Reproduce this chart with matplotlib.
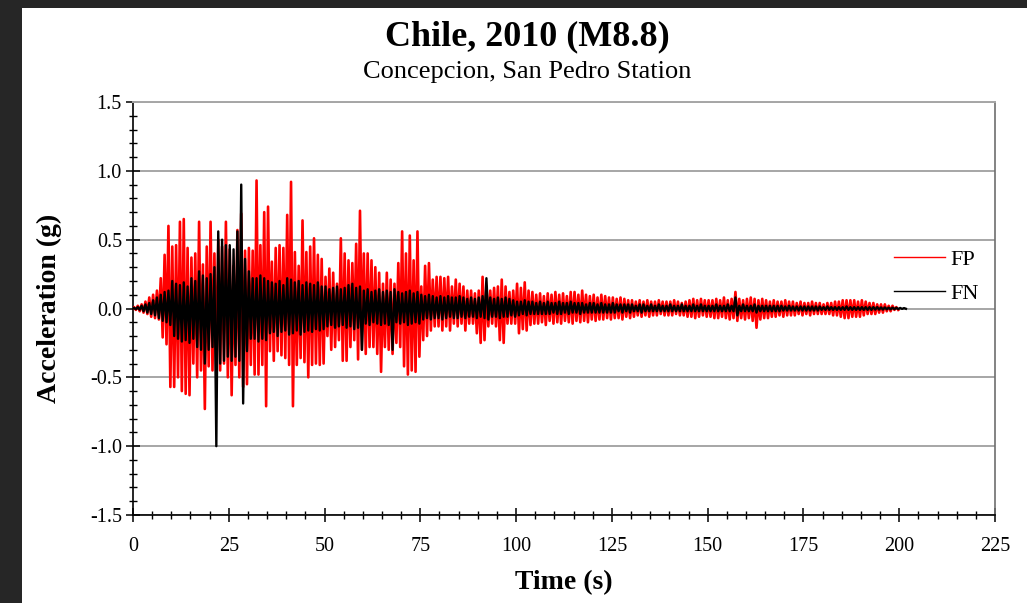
import numpy as np
import matplotlib
matplotlib.use('Agg')
import matplotlib.pyplot as plt
from matplotlib.patches import Rectangle
from matplotlib.ticker import MultipleLocator, FuncFormatter

plt.rcParams['font.family'] = ['Liberation Serif', 'DejaVu Serif']
plt.rcParams['axes.unicode_minus'] = False

TITLE = "Chile, 2010 (M8.8)"
SUBTITLE = "Concepcion, San Pedro Station"
X_LABEL = "Time (s)"
Y_LABEL = "Acceleration (g)"
SERIES = ["FP", "FN"]

# Per-second positive / negative peak accelerations (g)
FP_POS = [0.01, 0.02, 0.03, 0.05, 0.08, 0.10, 0.13, 0.22, 0.39, 0.60, 0.45, 0.46, 0.63, 0.65, 0.44, 0.37, 0.40, 0.63, 0.32, 0.45, 0.63, 0.40, 0.50, 0.45, 0.63,
          0.43, 0.31, 0.57, 0.69, 0.42, 0.44, 0.42, 0.93, 0.46, 0.70, 0.74, 0.34, 0.44, 0.46, 0.44, 0.68, 0.92, 0.41, 0.31, 0.64, 0.41, 0.45, 0.51, 0.39, 0.36,
          0.23, 0.29, 0.26, 0.18, 0.51, 0.40, 0.35, 0.33, 0.47, 0.71, 0.40, 0.40, 0.35, 0.30, 0.26, 0.18, 0.26, 0.21, 0.18, 0.33, 0.56, 0.40, 0.53, 0.35, 0.56,
          0.16, 0.31, 0.33, 0.21, 0.23, 0.23, 0.22, 0.23, 0.16, 0.21, 0.18, 0.16, 0.13, 0.13, 0.11, 0.13, 0.23, 0.16, 0.13, 0.15, 0.16, 0.21, 0.16, 0.12, 0.13,
          0.18, 0.15, 0.19, 0.13, 0.12, 0.10, 0.11, 0.09, 0.11, 0.10, 0.12, 0.10, 0.11, 0.09, 0.12, 0.12, 0.10, 0.13, 0.10, 0.09, 0.10, 0.08, 0.10, 0.09, 0.08,
          0.08, 0.07, 0.08, 0.07, 0.06, 0.06, 0.05, 0.06, 0.05, 0.06, 0.05, 0.05, 0.06, 0.05, 0.05, 0.05, 0.06, 0.05, 0.04, 0.05, 0.06, 0.07, 0.06, 0.07, 0.06,
          0.06, 0.06, 0.07, 0.06, 0.08, 0.06, 0.07, 0.12, 0.07, 0.06, 0.07, 0.08, 0.07, 0.06, 0.07, 0.06, 0.05, 0.06, 0.05, 0.05, 0.06, 0.05, 0.05, 0.04, 0.05,
          0.04, 0.04, 0.05, 0.04, 0.04, 0.03, 0.04, 0.04, 0.05, 0.05, 0.06, 0.06, 0.06, 0.06, 0.05, 0.06, 0.05, 0.04, 0.04, 0.03, 0.03, 0.03, 0.02, 0.02, 0.01]
FP_NEG = [-0.01, -0.02, -0.03, -0.04, -0.06, -0.07, -0.08, -0.21, -0.26, -0.57, -0.57, -0.50, -0.60, -0.62, -0.63, -0.40, -0.50, -0.45, -0.73, -0.42, -0.45, -0.50, -0.45, -0.40, -0.50,
          -0.63, -0.41, -0.50, -0.57, -0.55, -0.41, -0.48, -0.48, -0.41, -0.71, -0.31, -0.38, -0.31, -0.34, -0.36, -0.41, -0.71, -0.41, -0.36, -0.39, -0.50, -0.41, -0.40, -0.41, -0.40,
          -0.20, -0.30, -0.28, -0.23, -0.38, -0.38, -0.28, -0.23, -0.37, -0.30, -0.33, -0.28, -0.28, -0.33, -0.46, -0.28, -0.30, -0.33, -0.25, -0.28, -0.42, -0.48, -0.45, -0.46, -0.35,
          -0.23, -0.20, -0.16, -0.13, -0.13, -0.16, -0.13, -0.16, -0.11, -0.13, -0.11, -0.16, -0.11, -0.11, -0.18, -0.25, -0.23, -0.13, -0.11, -0.13, -0.23, -0.25, -0.11, -0.11, -0.11,
          -0.18, -0.15, -0.16, -0.12, -0.11, -0.11, -0.10, -0.12, -0.09, -0.11, -0.10, -0.11, -0.09, -0.10, -0.11, -0.09, -0.10, -0.09, -0.10, -0.08, -0.09, -0.08, -0.08, -0.07, -0.08,
          -0.07, -0.07, -0.08, -0.06, -0.07, -0.06, -0.05, -0.06, -0.05, -0.06, -0.05, -0.05, -0.04, -0.05, -0.05, -0.05, -0.04, -0.05, -0.05, -0.06, -0.06, -0.07, -0.06, -0.05, -0.06,
          -0.06, -0.07, -0.07, -0.06, -0.07, -0.08, -0.07, -0.09, -0.07, -0.08, -0.07, -0.09, -0.14, -0.08, -0.07, -0.07, -0.06, -0.06, -0.05, -0.06, -0.05, -0.05, -0.05, -0.04, -0.05,
          -0.04, -0.05, -0.04, -0.04, -0.04, -0.04, -0.04, -0.05, -0.05, -0.06, -0.07, -0.07, -0.06, -0.06, -0.06, -0.05, -0.04, -0.04, -0.04, -0.03, -0.03, -0.02, -0.02, -0.01, -0.01]
FN_POS = [0.005, 0.01, 0.02, 0.03, 0.04, 0.06, 0.08, 0.10, 0.12, 0.13, 0.20, 0.18, 0.17, 0.19, 0.16, 0.22, 0.20, 0.27, 0.24, 0.22, 0.25, 0.30, 0.56, 0.50, 0.46,
          0.46, 0.43, 0.56, 0.90, 0.36, 0.27, 0.22, 0.22, 0.24, 0.22, 0.20, 0.19, 0.18, 0.20, 0.17, 0.22, 0.21, 0.19, 0.20, 0.17, 0.19, 0.18, 0.17, 0.19, 0.16,
          0.16, 0.14, 0.15, 0.16, 0.14, 0.15, 0.17, 0.18, 0.15, 0.16, 0.13, 0.14, 0.12, 0.13, 0.14, 0.12, 0.13, 0.12, 0.14, 0.12, 0.11, 0.12, 0.13, 0.11, 0.12,
          0.10, 0.09, 0.10, 0.09, 0.08, 0.09, 0.08, 0.09, 0.08, 0.08, 0.09, 0.08, 0.07, 0.08, 0.07, 0.08, 0.09, 0.22, 0.08, 0.07, 0.08, 0.07, 0.08, 0.07, 0.06,
          0.05, 0.05, 0.06, 0.05, 0.05, 0.04, 0.05, 0.04, 0.05, 0.04, 0.04, 0.05, 0.04, 0.04, 0.05, 0.04, 0.04, 0.04, 0.03, 0.04, 0.04, 0.03, 0.04, 0.03, 0.03,
          0.04, 0.03, 0.03, 0.03, 0.03, 0.03, 0.02, 0.03, 0.03, 0.02, 0.03, 0.02, 0.03, 0.02, 0.02, 0.03, 0.02, 0.02, 0.03, 0.02, 0.02, 0.03, 0.02, 0.03, 0.02,
          0.02, 0.02, 0.03, 0.02, 0.02, 0.03, 0.02, 0.08, 0.02, 0.03, 0.02, 0.02, 0.03, 0.02, 0.02, 0.02, 0.02, 0.02, 0.02, 0.02, 0.015, 0.02, 0.015, 0.015, 0.015,
          0.015, 0.015, 0.015, 0.015, 0.015, 0.01, 0.015, 0.01, 0.01, 0.01, 0.01, 0.015, 0.01, 0.01, 0.01, 0.01, 0.01, 0.01, 0.01, 0.01, 0.008, 0.008, 0.006, 0.006, 0.005,
          0.004, 0.003]
FN_NEG = [-0.005, -0.01, -0.02, -0.03, -0.04, -0.05, -0.07, -0.09, -0.10, -0.12, -0.20, -0.22, -0.24, -0.23, -0.25, -0.22, -0.28, -0.30, -0.40, -0.30, -0.28, -1.00, -0.40, -0.38, -0.35,
          -0.38, -0.35, -0.38, -0.69, -0.31, -0.22, -0.22, -0.24, -0.22, -0.23, -0.18, -0.17, -0.20, -0.17, -0.16, -0.19, -0.18, -0.16, -0.19, -0.17, -0.16, -0.17, -0.15, -0.16, -0.15,
          -0.13, -0.12, -0.14, -0.13, -0.12, -0.14, -0.13, -0.15, -0.14, -0.30, -0.11, -0.12, -0.10, -0.11, -0.12, -0.11, -0.12, -0.30, -0.10, -0.11, -0.10, -0.12, -0.11, -0.10, -0.11,
          -0.08, -0.07, -0.08, -0.07, -0.07, -0.08, -0.07, -0.06, -0.07, -0.07, -0.06, -0.07, -0.06, -0.06, -0.07, -0.06, -0.07, -0.08, -0.06, -0.06, -0.07, -0.06, -0.06, -0.05, -0.06,
          -0.05, -0.04, -0.05, -0.04, -0.04, -0.04, -0.04, -0.04, -0.04, -0.03, -0.04, -0.04, -0.03, -0.04, -0.03, -0.03, -0.04, -0.03, -0.03, -0.03, -0.03, -0.03, -0.03, -0.03, -0.03,
          -0.03, -0.02, -0.03, -0.02, -0.03, -0.02, -0.02, -0.03, -0.02, -0.02, -0.02, -0.02, -0.02, -0.02, -0.02, -0.02, -0.02, -0.02, -0.02, -0.02, -0.02, -0.02, -0.02, -0.02, -0.02,
          -0.02, -0.02, -0.02, -0.02, -0.02, -0.02, -0.02, -0.05, -0.02, -0.02, -0.02, -0.02, -0.03, -0.02, -0.02, -0.02, -0.02, -0.02, -0.02, -0.015, -0.015, -0.015, -0.015, -0.015, -0.015,
          -0.015, -0.015, -0.015, -0.015, -0.01, -0.01, -0.01, -0.01, -0.01, -0.01, -0.01, -0.01, -0.01, -0.01, -0.01, -0.01, -0.01, -0.01, -0.008, -0.008, -0.008, -0.006, -0.006, -0.005,
          -0.004, -0.003, -0.002]

X_TICKS = [0, 25, 50, 75, 100, 125, 150, 175, 200, 225]
Y_TICKS = [-1.5, -1.0, -0.5, 0.0, 0.5, 1.0, 1.5]


def trace(pos, neg):
    tp = np.arange(len(pos)) + 0.25
    tn = np.arange(len(neg)) + 0.75
    t = np.concatenate([[0.0], tp, tn])
    v = np.concatenate([[0.0], pos, neg])
    order = np.argsort(t, kind='stable')
    return t[order], v[order]


W, H = 1027, 603
fig = plt.figure(figsize=(W / 100, H / 100), dpi=100)
fig.patch.set_facecolor('#262626')
fig.add_artist(Rectangle((22 / W, 0), 1, (H - 8) / H, transform=fig.transFigure,
                         facecolor='white', edgecolor='none', zorder=-10))

ax = fig.add_axes([133 / W, (H - 515) / H, 862 / W, 413 / H])
ax.set_facecolor('white')

t_fp, v_fp = trace(FP_POS, FP_NEG)
t_fn, v_fn = trace(FN_POS, FN_NEG)
ax.plot(t_fp, v_fp, color='#ff0000', lw=1.9, label=SERIES[0], zorder=3)
ax.plot(t_fn, v_fn, color='black', lw=1.7, label=SERIES[1], zorder=4)

ax.set_xlim(X_TICKS[0], X_TICKS[-1])
ax.set_ylim(Y_TICKS[0], Y_TICKS[-1])
ax.set_xticks(X_TICKS)
ax.set_yticks(Y_TICKS)
ax.xaxis.set_minor_locator(MultipleLocator(5))
ax.yaxis.set_minor_locator(MultipleLocator(0.1))
ax.yaxis.set_major_formatter(FuncFormatter(lambda v, p: f"{0.0 if abs(v) < 1e-9 else v:.1f}"))
ax.tick_params(which='major', direction='inout', length=10, width=1.1, color='black',
               labelsize=14.5, labelcolor='black')
ax.tick_params(which='minor', direction='inout', length=6, width=1.0, color='black')
ax.tick_params(axis='x', pad=11)
ax.tick_params(axis='y', pad=3)

ax.grid(axis='y', which='major', color='#a6a6a6', lw=1.4)
ax.set_axisbelow(True)
for s in ['left', 'bottom']:
    ax.spines[s].set_color('black')
    ax.spines[s].set_linewidth(1.2)
ax.spines['top'].set_color('#a6a6a6')
ax.spines['top'].set_linewidth(1.4)
ax.spines['right'].set_color('#6e6e6e')
ax.spines['right'].set_linewidth(1.2)

leg = ax.legend(loc='center left', bbox_to_anchor=(0.872, 0.577), frameon=False, fontsize=16,
                handlelength=2.3, handletextpad=0.25, labelspacing=0.62, borderaxespad=0)
for line in leg.get_lines():
    line.set_linewidth(1.0)

fig.text(527 / W, 1 - 37 / H, TITLE, ha='center', va='center', fontsize=26, fontweight='bold')
fig.text(527 / W, 1 - 72 / H, SUBTITLE, ha='center', va='center', fontsize=19)
fig.text(564 / W, 1 - 583 / H, X_LABEL, ha='center', va='center', fontsize=20, fontweight='bold')
fig.text(49 / W, 1 - 308 / H, Y_LABEL, ha='center', va='center', fontsize=20, fontweight='bold',
         rotation=90)

fig.savefig('out.png', dpi=100, facecolor=fig.get_facecolor())
